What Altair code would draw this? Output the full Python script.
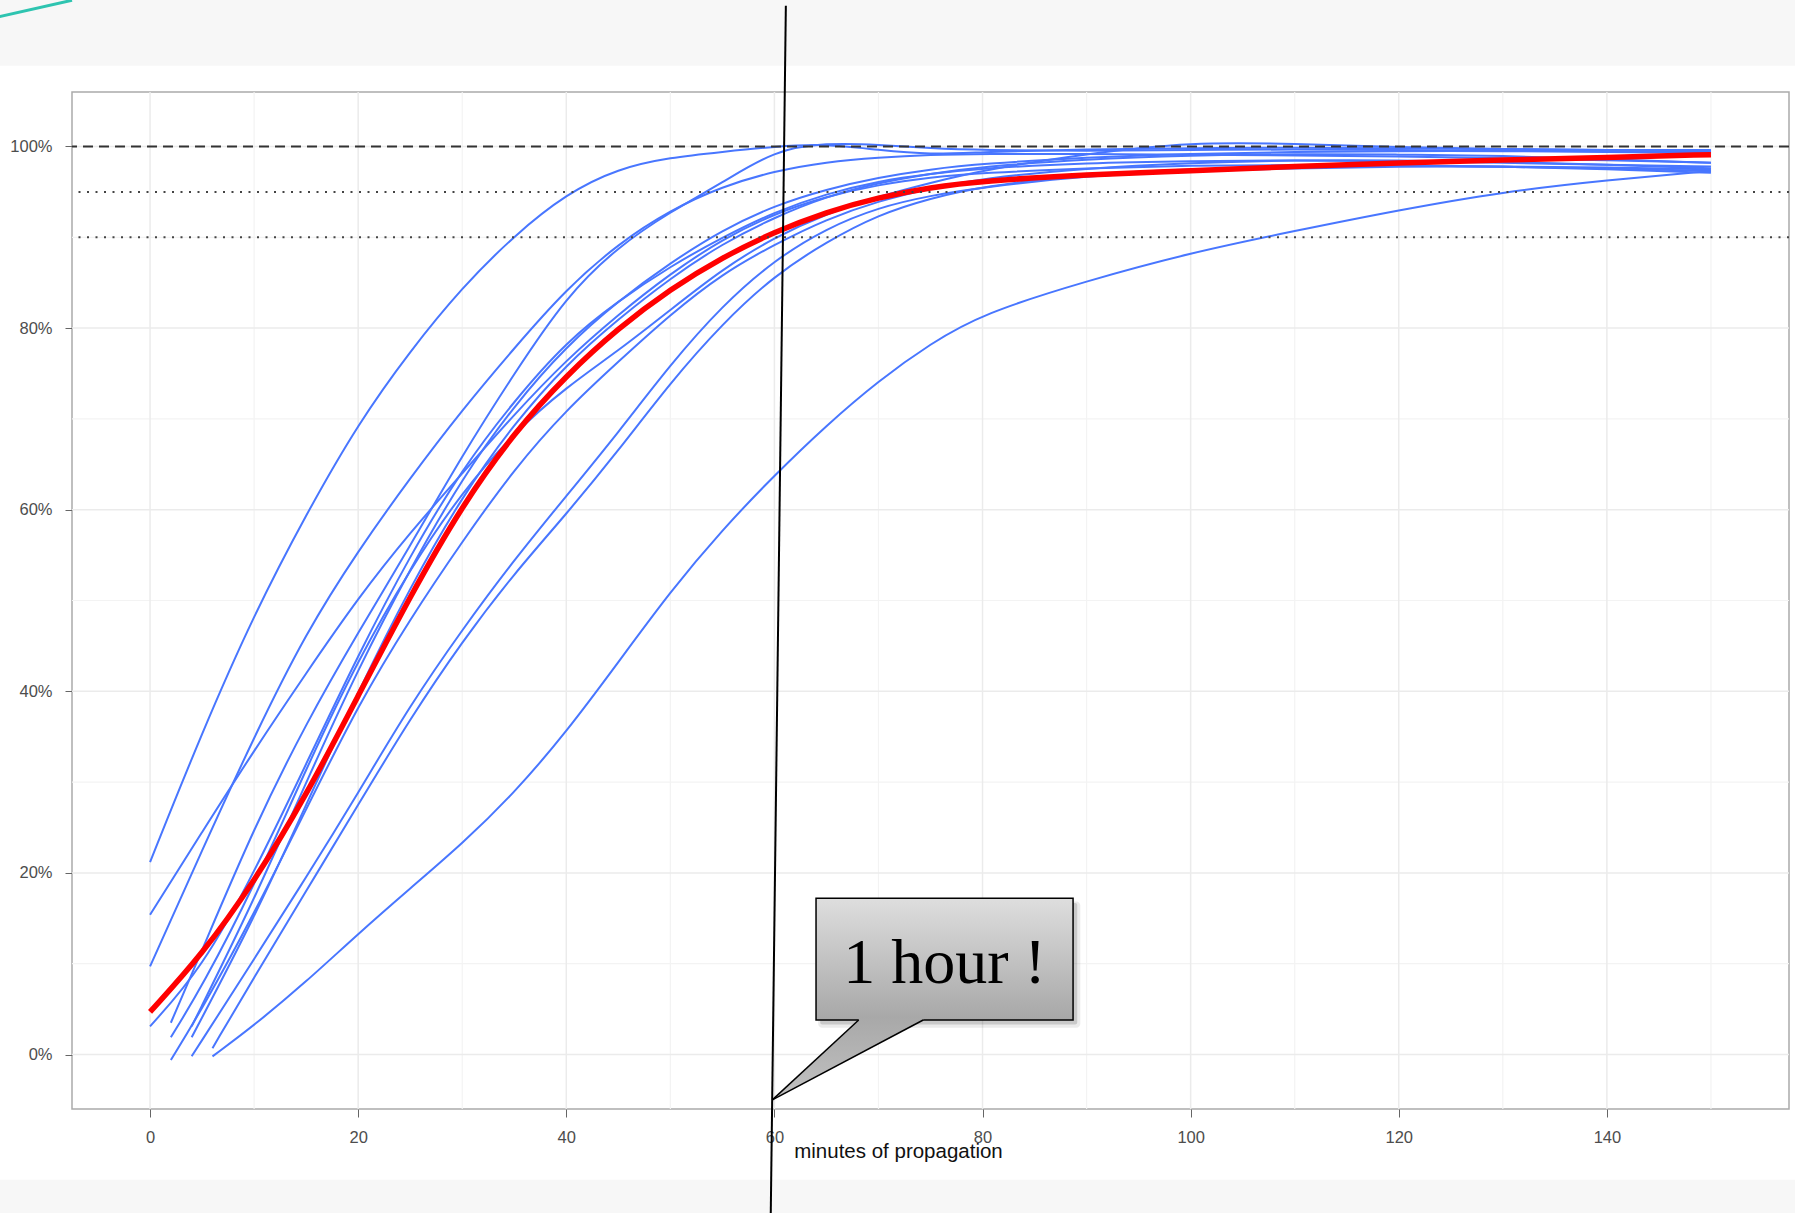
import altair as alt
import pandas as pd

# ---------------- data ----------------
X_TICKS = [0, 20, 40, 60, 80, 100, 120, 140]
X_MINOR = [10, 30, 50, 70, 90, 110, 130, 150]
Y_TICKS = [0, 20, 40, 60, 80, 100]
Y_MINOR = [10, 30, 50, 70, 90]
REF_DASHED = [100]
REF_DOTTED = [95, 90]

GRID = [10, 15, 20, 25, 30, 35, 40, 45, 50, 55, 60, 65, 70, 75, 80,
        90, 100, 110, 120, 130, 140, 150]

RUN_A = ([0, 5], [21.2, 35.5, 48.5, 59.5, 69.5, 77.5, 84.5, 90.2, 94.8, 97.6, 98.8, 99.4,
                  100.0, 100.3, 99.6, 99.1, 99.4, 99.7, 99.8, 99.9, 99.8, 99.7, 99.6, 99.6])
RUN_B = ([0, 5], [15.4, 24.5, 33.5, 42.0, 50.3, 57.5, 64.0, 70.5, 76.5, 81.5, 86.0, 89.8,
                  92.6, 94.5, 95.8, 96.6, 97.1, 97.6, 97.9, 98.0, 97.9, 97.8, 97.7, 97.5])
RUN_C = ([0, 5], [9.7, 22.5, 35.0, 46.5, 55.5, 63.5, 71.0, 77.8, 84.3, 89.3, 93.0, 95.6,
                  97.3, 98.3, 98.8, 99.1, 99.2, 99.2, 99.1, 99.0, 98.9, 98.7, 98.5, 98.2])
RUN_D = ([0, 5], [3.1, 9.5, 20.0, 32.0, 44.0, 55.0, 64.5, 72.0, 78.5, 83.0, 86.8, 90.0,
                  92.8, 94.8, 96.2, 97.0, 97.6, 98.2, 98.4, 98.5, 98.4, 98.2, 98.0, 97.8])
RUN_E = ([2, 5], [3.5, 11.5, 25.0, 36.5, 46.5, 56.0, 66.0, 75.0, 83.5, 89.0, 92.8, 96.0,
                  99.6, 100.4, 100.2, 99.8, 99.6, 99.5, 99.6, 99.7, 99.6, 99.5, 99.5, 99.4])
RUN_F = ([2, 5], [1.9, 7.5, 18.5, 31.5, 43.5, 53.5, 62.0, 68.5, 73.5, 77.5, 82.0, 86.5,
                  90.0, 92.6, 94.5, 96.0, 97.4, 99.2, 100.5, 100.3, 99.9, 99.7, 99.6, 99.5])
RUN_G = ([2, 5], [-0.6, 5.0, 15.5, 27.0, 38.5, 48.0, 56.5, 64.5, 71.0, 76.3, 81.5, 86.0,
                  89.2, 92.0, 94.0, 95.4, 96.5, 97.6, 98.2, 98.5, 98.5, 98.3, 98.0, 97.6])
RUN_H = ([4], [3.1, 17.0, 30.0, 42.5, 53.5, 63.5, 71.5, 78.0, 83.0, 87.2, 90.8, 93.5,
               95.3, 96.6, 97.5, 98.1, 98.8, 99.2, 99.4, 99.5, 99.5, 99.4, 99.3])
RUN_I = ([4], [1.9, 15.0, 27.5, 40.0, 51.5, 61.5, 69.5, 76.0, 81.0, 85.5, 89.3, 92.2,
               94.5, 96.0, 97.0, 97.8, 98.6, 99.0, 99.2, 99.1, 99.0, 98.6, 98.2])
RUN_J = ([4], [-0.2, 10.5, 19.5, 28.8, 38.5, 46.8, 54.5, 61.5, 68.5, 76.0, 82.5, 87.5,
               91.0, 93.3, 94.6, 95.5, 96.8, 97.3, 97.6, 97.8, 97.8, 97.6, 97.3])
RUN_K = ([6], [0.7, 8.5, 18.0, 27.5, 37.0, 45.5, 53.0, 59.5, 66.5, 74.0, 80.5, 85.8,
               89.5, 92.5, 94.3, 95.6, 97.0, 97.5, 97.8, 97.9, 97.8, 97.5, 97.1])
RUN_L = ([6], [-0.2, 3.2, 8.0, 13.3, 18.3, 23.2, 28.8, 35.5, 43.2, 51.0, 57.8, 63.8,
               69.3, 74.2, 78.3, 81.6, 85.2, 88.3, 90.7, 93.0, 95.0, 96.3, 97.3])
MEAN = ([0, 5], [4.7, 11.0, 19.0, 28.5, 39.5, 50.5, 60.5, 68.5, 74.8, 80.0, 84.3, 87.8,
                 90.6, 92.8, 94.4, 95.5, 96.2, 96.9, 97.3, 97.8, 98.2, 98.5, 98.8, 99.1])

RUNS = {"a": RUN_A, "b": RUN_B, "c": RUN_C, "d": RUN_D, "e": RUN_E, "f": RUN_F,
        "g": RUN_G, "h": RUN_H, "i": RUN_I, "j": RUN_J, "k": RUN_K, "l": RUN_L}

# annotation (data units)
MARKER_X = [61.1, 59.65]
MARKER_Y = [115.5, -17.5]
BOX_X = [64.0, 88.7]
BOX_Y = [3.8, 17.2]
TAIL_BASE_X = [68.1, 74.3]
TAIL_TIP = [59.8, -5.0]
CALLOUT_TEXT = "1 hour !"
TEXT_POS = [76.35, 7.9]

# slide decoration (data units)
BAND_X = [-14.5, 158.5]
BAND_TOP_Y = [108.9, 117.0]
BAND_BOTTOM_Y = [-13.8, -18.0]
SWOOSH_X = [-14.5, -7.5]
SWOOSH_Y = [114.3, 116.1]

# ---------------- frames ----------------
rows = []
for name, (head, vals) in RUNS.items():
    for x, y in zip(head + GRID, vals):
        rows.append({"run": name, "minutes": x, "pct": y})
runs_df = pd.DataFrame(rows)
mean_df = pd.DataFrame({"minutes": MEAN[0] + GRID, "pct": MEAN[1]})

XS = alt.Scale(domain=[-7.5, 157.5], nice=False, zero=False)
YS = alt.Scale(domain=[-6, 106], nice=False, zero=False)

XAXIS = alt.Axis(values=X_TICKS, title="minutes of propagation", grid=False, domain=False,
                 tickSize=8, tickColor="#666666", tickWidth=1,
                 labelFont="Liberation Sans", labelFontSize=16.5, labelColor="#4d4d4d",
                 labelPadding=12, titleFont="Liberation Sans", titleFontSize=20.5,
                 titleFontWeight="normal", titleColor="#111111", titleX=826, titleY=48,
                 titleBaseline="alphabetic", titleAlign="center")
YAXIS = alt.Axis(values=Y_TICKS, title=None, grid=False, domain=False, labelExpr="datum.value + '%'",
                 tickSize=7, tickColor="#666666", tickWidth=1,
                 labelFont="Liberation Sans", labelFontSize=16.5, labelColor="#4d4d4d",
                 labelPadding=13)


def X(f):
    return alt.X(f"{f}:Q", scale=XS, axis=XAXIS)


def Y(f):
    return alt.Y(f"{f}:Q", scale=YS, axis=YAXIS)


def box_frame(dx=0.0, dy=0.0, grow=0.0):
    return pd.DataFrame({"x": [BOX_X[0] + dx - grow], "x2": [BOX_X[1] + dx + grow],
                         "y": [BOX_Y[0] + dy - grow], "y2": [BOX_Y[1] + dy + grow]})


bands = alt.Chart(pd.DataFrame({
    "x": [BAND_X[0], BAND_X[0]], "x2": [BAND_X[1], BAND_X[1]],
    "y": [BAND_TOP_Y[0], BAND_BOTTOM_Y[0]], "y2": [BAND_TOP_Y[1], BAND_BOTTOM_Y[1]]
})).mark_rect(color="#f7f7f7").encode(x=X("x"), x2="x2", y=Y("y"), y2="y2")

swoosh = alt.Chart(pd.DataFrame({"x": [SWOOSH_X[0]], "x2": [SWOOSH_X[1]],
                                 "y": [SWOOSH_Y[0]], "y2": [SWOOSH_Y[1]]})).mark_rule(
    color="#2ec4b0", strokeWidth=3).encode(x=X("x"), x2="x2", y=Y("y"), y2="y2")

minor_x = alt.Chart(pd.DataFrame({"v": X_MINOR})).mark_rule(color="#f3f3f3", strokeWidth=1.2).encode(x=X("v"))
minor_y = alt.Chart(pd.DataFrame({"v": Y_MINOR})).mark_rule(color="#f3f3f3", strokeWidth=1.2).encode(y=Y("v"))
major_x = alt.Chart(pd.DataFrame({"v": X_TICKS})).mark_rule(color="#ebebeb", strokeWidth=1.5).encode(x=X("v"))
major_y = alt.Chart(pd.DataFrame({"v": Y_TICKS})).mark_rule(color="#ebebeb", strokeWidth=1.5).encode(y=Y("v"))

runs = alt.Chart(runs_df).mark_line(color="#4876ff", strokeWidth=2, interpolate="basis").encode(
    x=X("minutes"), y=Y("pct"), detail="run:N")
mean = alt.Chart(mean_df).mark_line(color="#ff0000", strokeWidth=5.5, interpolate="basis").encode(
    x=X("minutes"), y=Y("pct"))

dashed = alt.Chart(pd.DataFrame({"v": REF_DASHED})).mark_rule(
    color="#333333", strokeWidth=1.8, strokeDash=[10, 6]).encode(y=Y("v"))
dotted = alt.Chart(pd.DataFrame({"v": REF_DOTTED})).mark_rule(
    color="#444444", strokeWidth=2, strokeDash=[2, 6.5]).encode(y=Y("v"))

marker = alt.Chart(pd.DataFrame({"x": [MARKER_X[0]], "x2": [MARKER_X[1]],
                                 "y": [MARKER_Y[0]], "y2": [MARKER_Y[1]]})).mark_rule(
    color="#000000", strokeWidth=2).encode(x=X("x"), x2="x2", y=Y("y"), y2="y2")

shadow_outer = alt.Chart(box_frame(0.45, -0.6, 0.25)).mark_rect(
    color="#000000", opacity=0.08, cornerRadius=4).encode(x=X("x"), x2="x2", y=Y("y"), y2="y2")
shadow_inner = alt.Chart(box_frame(0.4, -0.5, 0.0)).mark_rect(
    color="#000000", opacity=0.14, cornerRadius=2).encode(x=X("x"), x2="x2", y=Y("y"), y2="y2")

box_fill = alt.Gradient(gradient="linear",
                        stops=[alt.GradientStop(color="#dedede", offset=0),
                               alt.GradientStop(color="#a7a7a7", offset=1)],
                        x1=0, x2=0, y1=0, y2=1)
box = alt.Chart(box_frame()).mark_rect(
    fill=box_fill, stroke="#000000", strokeWidth=1.5).encode(x=X("x"), x2="x2", y=Y("y"), y2="y2")

tail_fill = alt.Gradient(gradient="linear",
                         stops=[alt.GradientStop(color="#a8a8a8", offset=0),
                                alt.GradientStop(color="#c2c2c2", offset=1)],
                         x1=0, x2=0, y1=0, y2=1)
tail_area = alt.Chart(pd.DataFrame({
    "y": [BOX_Y[0] + 0.4, BOX_Y[0], TAIL_TIP[1]],
    "x": [TAIL_BASE_X[0], TAIL_BASE_X[0], TAIL_TIP[0]],
    "x2": [TAIL_BASE_X[1], TAIL_BASE_X[1], TAIL_TIP[0]],
})).mark_area(orient="horizontal", fill=tail_fill, interpolate="linear").encode(
    y=Y("y"), x=X("x"), x2="x2")

tail_lines = alt.Chart(pd.DataFrame({
    "side": ["l", "l", "r", "r"],
    "x": [TAIL_BASE_X[0], TAIL_TIP[0], TAIL_BASE_X[1], TAIL_TIP[0]],
    "y": [BOX_Y[0], TAIL_TIP[1], BOX_Y[0], TAIL_TIP[1]],
})).mark_line(color="#000000", strokeWidth=1.5).encode(x=X("x"), y=Y("y"), detail="side:N")

label = alt.Chart(pd.DataFrame({"x": [TEXT_POS[0]], "y": [TEXT_POS[1]], "t": [CALLOUT_TEXT]})).mark_text(
    font="Liberation Serif", fontSize=64, color="#000000", align="center", baseline="alphabetic").encode(
    x=X("x"), y=Y("y"), text="t:N")

chart = alt.layer(
    bands, swoosh, minor_x, minor_y, major_x, major_y, runs, mean, dashed, dotted,
    marker, shadow_outer, shadow_inner, box, tail_area, tail_lines, label
).properties(
    width=1717, height=1017,
    padding={"left": 72, "top": 92, "right": 6, "bottom": 104},
    autosize=alt.AutoSizeParams(type="none"),
    background="white",
).configure_view(stroke="#aaaaaa", strokeWidth=1.5)

chart.save("out.html", embed_options={"renderer": "svg", "actions": False})
